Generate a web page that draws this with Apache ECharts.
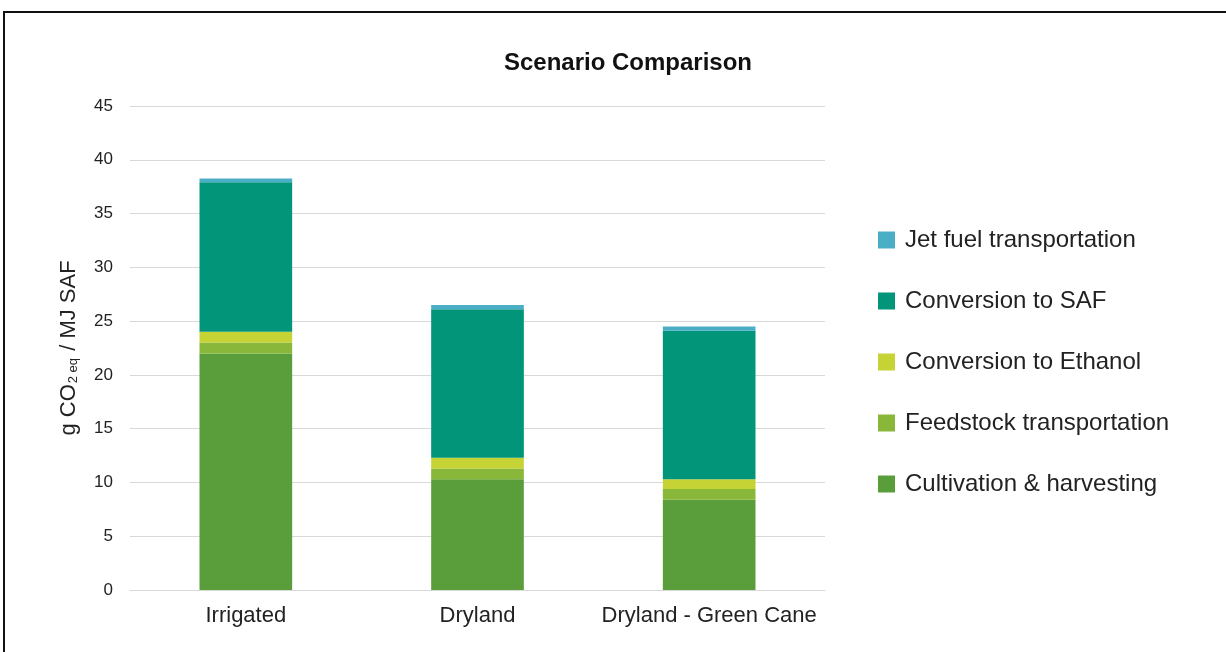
<!DOCTYPE html>
<html>
<head>
<meta charset="utf-8">
<script src="https://cdn.jsdelivr.net/npm/echarts@6/dist/echarts.min.js"></script>
<style>
  html, body { margin: 0; padding: 0; background: #fff; }
  #chart { width: 1226px; height: 652px; }
</style>
</head>
<body>
<div id="chart"></div>
<script>
// Scenarios along the x axis
const scenarios = ['Irrigated', 'Dryland', 'Dryland - Green Cane'];

// Emission contributions per stage, g CO2eq / MJ SAF
const cultivation = [22.0, 10.3, 8.4];
const feedstockTransport = [1.0, 1.0, 1.0];
const ethanolConversion = [1.0, 1.0, 0.9];
const safConversion = [13.9, 13.8, 13.8];
const jetFuelTransport = [0.35, 0.4, 0.4];

const yTicks = { min: 0, max: 45, interval: 5 };

const stages = [
  { name: 'Cultivation & harvesting', data: cultivation, color: '#5a9e3c' },
  { name: 'Feedstock transportation', data: feedstockTransport, color: '#88b73a' },
  { name: 'Conversion to Ethanol', data: ethanolConversion, color: '#c6d335' },
  { name: 'Conversion to SAF', data: safConversion, color: '#03957a' },
  { name: 'Jet fuel transportation', data: jetFuelTransport, color: '#4aafc6' }
];

const font = 'Arial, "Liberation Sans", sans-serif';
const chart = echarts.init(document.getElementById('chart'));

chart.setOption({
  animation: false,
  backgroundColor: '#fff',
  textStyle: { fontFamily: font },
  graphic: [{
    type: 'rect',
    shape: { x: 4, y: 12, width: 1240, height: 660 },
    style: { fill: 'none', stroke: '#111', lineWidth: 2 },
    z: 100
  }],
  title: {
    text: 'Scenario Comparison',
    left: 623,
    top: 46,
    textAlign: 'center',
    textStyle: { fontFamily: font, fontSize: 24, fontWeight: 'bold', color: '#111' }
  },
  legend: {
    orient: 'vertical',
    left: 873,
    top: 223,
    itemWidth: 17,
    itemHeight: 17,
    itemGap: 37,
    icon: 'rect',
    textStyle: { fontFamily: font, fontSize: 24, lineHeight: 20, color: '#222', padding: [0, 0, 0, 5] },
    data: stages.map(s => s.name).reverse()
  },
  grid: { left: 130, right: 401, top: 106, bottom: 62, containLabel: false },
  xAxis: {
    type: 'category',
    data: scenarios,
    axisLine: { show: true, lineStyle: { color: '#d9d9d9', width: 1 } },
    axisTick: { show: false },
    axisLabel: { fontFamily: font, fontSize: 22, color: '#222', margin: 15, interval: 0 }
  },
  yAxis: {
    type: 'value',
    min: yTicks.min,
    max: yTicks.max,
    interval: yTicks.interval,
    axisLine: { show: false },
    axisTick: { show: false },
    splitLine: { lineStyle: { color: '#d9d9d9', width: 1 } },
    axisLabel: { fontFamily: font, fontSize: 17, color: '#222', margin: 17 },
    name: '{a|g CO}{s|2 eq}{a| / MJ SAF}',
    nameLocation: 'middle',
    nameGap: 50,
    nameRotate: 90,
    nameTextStyle: {
      rich: {
        a: { fontFamily: font, fontSize: 22, color: '#222' },
        s: { fontFamily: font, fontSize: 13, color: '#222', verticalAlign: 'bottom', padding: [7, 1, 0, 1] }
      }
    }
  },
  series: stages.map(s => ({
    name: s.name,
    type: 'bar',
    stack: 'total',
    barWidth: '40%',
    data: s.data,
    itemStyle: { color: s.color }
  }))
});
</script>
</body>
</html>
